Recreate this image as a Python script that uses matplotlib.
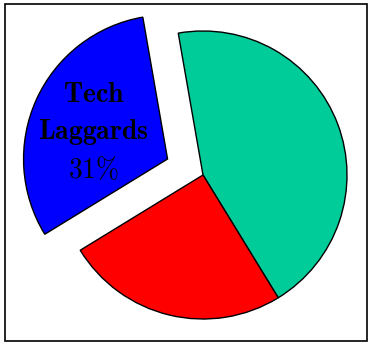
import numpy as np
import matplotlib
matplotlib.use("Agg")
import matplotlib.pyplot as plt
from matplotlib.patches import Rectangle

plt.rcParams["mathtext.fontset"] = "cm"

# Slice shares, counter-clockwise from the start angle
shares = [44, 31, 25]
slice_colors = ["#00CC99", "#0000FF", "#FF0000"]
explode = [0, 0.27, 0]
label_name = ["Tech", "Laggards"]
label_slice = 1

fig = plt.figure(figsize=(3.71, 3.45), dpi=100)
ax = fig.add_axes([0, 0, 1, 1])

wedges, _ = ax.pie(
    shares,
    colors=slice_colors,
    explode=explode,
    startangle=-58.5,
    counterclock=True,
    radius=1.0,
    wedgeprops=dict(edgecolor="black", linewidth=1.0),
)

# Label the exploded slice at its middle
w = wedges[label_slice]
mid = np.deg2rad((w.theta1 + w.theta2) / 2)
cx, cy = w.center
tx = cx + 0.53 * np.cos(mid) - 0.03
ty = cy + 0.53 * np.sin(mid) - 0.03
label = (r"$\mathbf{" + label_name[0] + "}$\n"
         r"$\mathbf{" + label_name[1] + "}$\n"
         r"$" + str(shares[label_slice]) + r"\%$")
ax.text(tx, ty, label, ha="center", va="center", fontsize=20,
        linespacing=1.42)

ax.set_xlim(-203 / 144, (371 - 203) / 144)
ax.set_ylim(-170 / 144, 175 / 144)
ax.set_aspect("auto")
ax.axis("off")

# Frame around the whole figure
fig.patches.append(Rectangle((5 / 371, 4 / 345), 362 / 371, 337 / 345,
                             transform=fig.transFigure, fill=False,
                             edgecolor="black", linewidth=1.2))

fig.savefig("out.png", dpi=100)
